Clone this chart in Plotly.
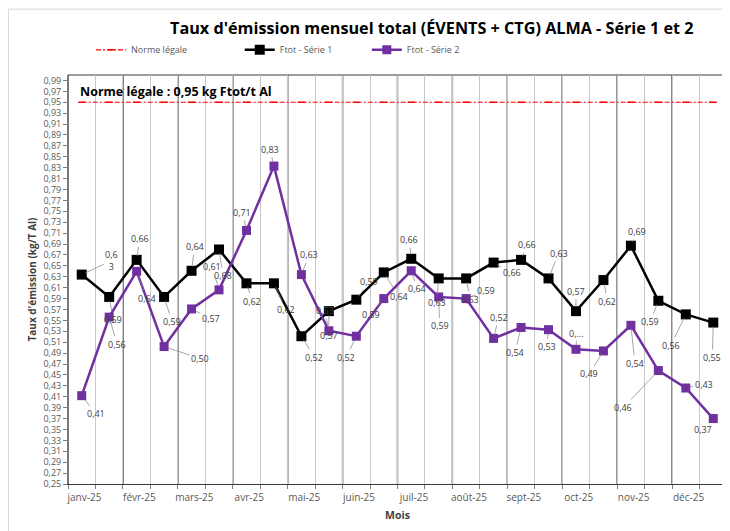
import plotly.graph_objects as go

# ---------------- data ----------------
months = ["janv-25", "févr-25", "mars-25", "avr-25", "mai-25", "juin-25",
          "juil-25", "août-25", "sept-25", "oct-25", "nov-25", "déc-25"]

# two measurements per month (24 points)
serie1 = [0.634, 0.593, 0.661, 0.593, 0.641, 0.680, 0.618, 0.618, 0.521, 0.567, 0.588, 0.638,
          0.663, 0.627, 0.627, 0.656, 0.661, 0.627, 0.567, 0.624, 0.687, 0.586, 0.561, 0.546]
serie2 = [0.412, 0.556, 0.640, 0.502, 0.571, 0.606, 0.715, 0.833, 0.634, 0.531, 0.521, 0.590,
          0.641, 0.593, 0.590, 0.517, 0.537, 0.533, 0.497, 0.494, 0.541, 0.458, 0.426, 0.370]
norme = [0.95] * 24

y_ticks = [round(0.25 + 0.02 * i, 2) for i in range(38)]

# ---------------- styling / layout helpers ----------------
n_pts = len(serie1)
xpos = [i + 0.5 for i in range(n_pts)]          # point index positions on the axis
month_tick_pos = [2 * k + 0.6 for k in range(len(months))]


def fr(v):
    return f"{v:.2f}".replace(".", ",")


lab1 = [fr(v) for v in serie1]
lab1[0] = "0,6<br>3"
lab2 = [fr(v) for v in serie2]
lab2[18] = "0,..."

# label offsets in pixels (ax, ay)
off1 = [(30, -14), (4, 23), (3, -21), (8, 25), (3, -24), (4, 26), (6, 18), (12, 26),
        (13, 21), (0, 24), (13, -18), (15, 24), (-2, -19), (-2, 24), (4, 21), (18, 10),
        (6, -15), (10, -25), (0, -20), (4, 21), (6, -14), (-8, 21), (-15, 31), (-1, 35)]
off2 = [(14, 18), (8, 27), (10, 27), (36, 12), (19, 10), (-7, -23), (-4, -18), (-4, -17),
        (8, -20), (-4, -20), (-10, 21), (-13, 16), (6, 18), (1, 29), (20, -8), (5, -21),
        (-6, 25), (-2, 17), (1, -16), (-14, 23), (4, 38), (-35, 37), (18, -4), (-10, 11)]

GREY_TXT = "#595959"
FONT = "Open Sans"
W, H = 722, 523

fig = go.Figure()

fig.add_trace(go.Scatter(
    x=xpos, y=norme, name="Norme légale", mode="lines+markers", legend="legend",
    line=dict(color="#FF0000", width=1.2, dash="5px,2px,2px,2px"),
    marker=dict(symbol="line-ew-open", size=5, color="#FF0000", line=dict(width=1.5, color="#FF0000")),
    hoverinfo="y"))

fig.add_trace(go.Scatter(
    x=xpos, y=serie1, name="Ftot - Série 1", mode="lines+markers", legend="legend2",
    line=dict(color="#000000", width=2.5),
    marker=dict(symbol="square", size=10, color="#000000"),
    hoverinfo="y"))

fig.add_trace(go.Scatter(
    x=xpos, y=serie2, name="Ftot - Série 2", mode="lines+markers", legend="legend3",
    line=dict(color="#7030A0", width=2.5),
    marker=dict(symbol="square", size=9, color="#7030A0"),
    hoverinfo="y"))

annotations = []
for xs, ys, labs, offs in ((xpos, serie1, lab1, off1), (xpos, serie2, lab2, off2)):
    for x, y, t, (ax, ay) in zip(xs, ys, labs, offs):
        annotations.append(dict(
            x=x, y=y, xref="x", yref="y", text=t, showarrow=True,
            ax=ax, ay=ay, arrowhead=0, arrowwidth=0.7, arrowcolor="#7F7F7F",
            standoff=4, font=dict(family=FONT, size=9, color="#404040")))

annotations.append(dict(
    x=0.015, y=0.985, xref="paper", yref="paper", xanchor="left", yanchor="top",
    text="<b>Norme légale : 0,95 kg Ftot/t Al</b>", showarrow=False,
    font=dict(family=FONT, size=12.5, color="#000000")))

shapes = []
# month boundaries (dark)
for k in range(len(months) + 1):
    shapes.append(dict(type="line", xref="x", yref="paper", x0=2 * k, x1=2 * k, y0=0, y1=1,
                       line=dict(color="#3A3A3A", width=1.4), layer="below"))
# plot box top
shapes.append(dict(type="line", xref="paper", yref="paper", x0=0, x1=1, y0=1, y1=1,
                   line=dict(color="#3A3A3A", width=1.2), layer="below"))
# chart area frame
shapes.append(dict(type="rect", xref="paper", yref="paper", x0=-0.0903, x1=1.02, y0=-0.2, y1=1.161,
                   line=dict(color="#D9D9D9", width=1), layer="below"))

leg_common = dict(orientation="h", xref="container", yref="container",
                  xanchor="left", yanchor="middle", y=0.92,
                  font=dict(family=FONT, size=9, color=GREY_TXT),
                  bgcolor="rgba(0,0,0,0)", itemwidth=30)

fig.update_layout(
    width=W, height=H,
    margin=dict(l=60, r=3, t=66.5, b=47),
    paper_bgcolor="white", plot_bgcolor="white",
    separators=", ",
    title=dict(text="<b>Taux d'émission mensuel total (ÉVENTS + CTG) ALMA - Série 1 et 2</b>",
               x=0.587, xanchor="center", y=0.962, yanchor="middle",
               font=dict(family=FONT, size=16.2, color="#000000")),
    legend=dict(x=0.115, **leg_common),
    legend2=dict(x=0.321, **leg_common),
    legend3=dict(x=0.497, **leg_common),
    showlegend=True,
    annotations=annotations,
    shapes=shapes,
    xaxis=dict(
        range=[0, 2 * len(months)], tickvals=month_tick_pos, ticktext=months,
        ticks="", showgrid=False, zeroline=False, automargin=False,
        showline=True, linecolor="#3A3A3A", linewidth=1.4, ticklabelstandoff=4,
        tickfont=dict(family=FONT, size=10, color=GREY_TXT),
        minor=dict(tick0=0, dtick=1, ticks="outside", ticklen=4, tickcolor="#7F7F7F",
                   showgrid=True, gridcolor="#C8C8C8", gridwidth=1),
        title=dict(text="<b>Mois</b>", font=dict(family=FONT, size=10.5, color="#404040"), standoff=8),
    ),
    yaxis=dict(
        range=[0.25, 1.0], tickvals=y_ticks, tickformat=".2f",
        ticks="outside", ticklen=4, tickcolor="#7F7F7F", automargin=False,
        showgrid=False, zeroline=False, showline=True, linecolor="#7F7F7F", linewidth=1,
        tickfont=dict(family=FONT, size=9, color=GREY_TXT),
        title=dict(text="<b>Taux d'émission (kg/T Al)</b>",
                   font=dict(family=FONT, size=10, color="#404040"), standoff=4),
    ),
)

fig.write_html("out.html")
